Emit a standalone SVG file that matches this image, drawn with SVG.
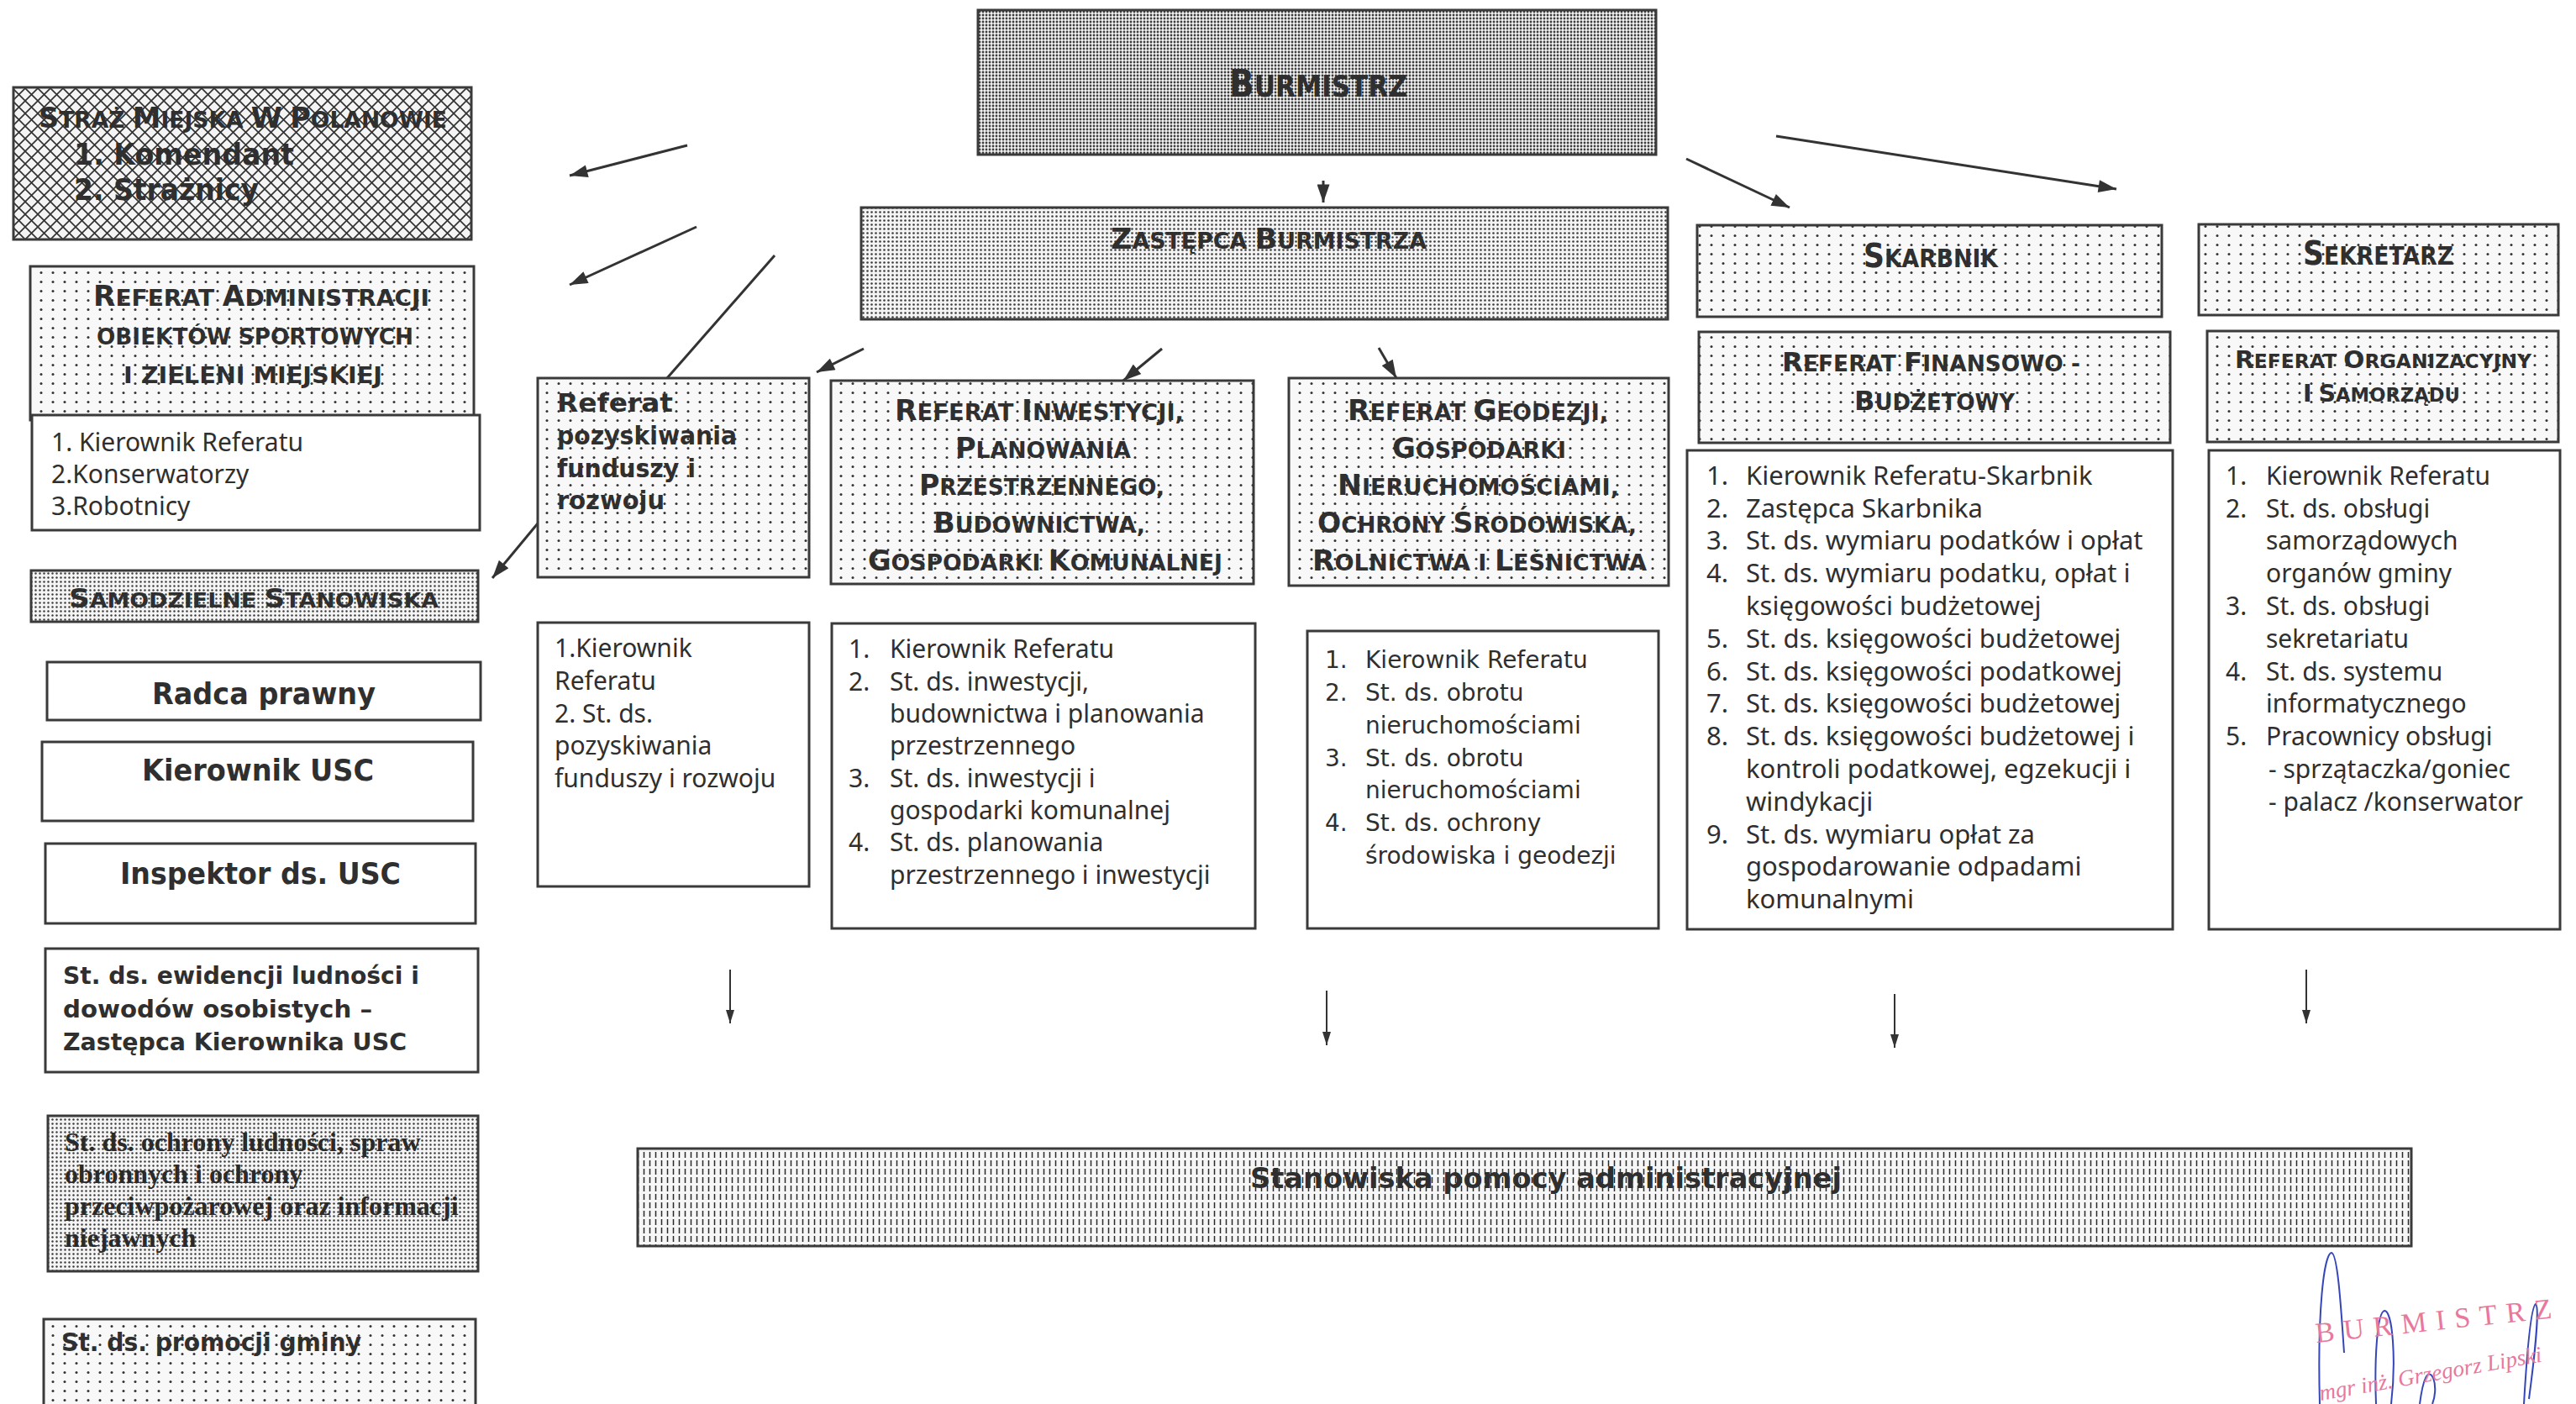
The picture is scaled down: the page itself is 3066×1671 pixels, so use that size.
<svg xmlns="http://www.w3.org/2000/svg" width="3066" height="1671" viewBox="0 0 3066 1671">
<style>
.box{stroke:#3a3a3a;stroke-width:3}
.w{fill:#fff}
.hd{font-family:"DejaVu Sans","Liberation Sans",sans-serif;font-weight:bold;fill:#2f2f2f}
.ls{font-family:"Noto Sans","Liberation Sans",sans-serif;font-size:30px;fill:#2f2f2f}
.lf{font-family:"Noto Sans","Liberation Sans",sans-serif;font-size:31px;fill:#2f2f2f}
.lv{font-family:"DejaVu Sans","Liberation Sans",sans-serif;font-size:28px;fill:#2f2f2f}
.sf{font-family:"Liberation Serif","DejaVu Serif",serif;font-weight:bold;font-size:32px;fill:#2a2a2a}
.con{stroke:#333;stroke-width:3;fill:none}
.con2{stroke:#333;stroke-width:2;fill:none}
.stamp{font-family:"Liberation Serif","DejaVu Serif",serif;fill:#e8789c}
</style>
<defs>
<pattern id="pBur" width="4" height="4" patternUnits="userSpaceOnUse"><rect width="4" height="4" fill="#f2f2f2"/><circle cx="2" cy="2" r="1.4" fill="#3c3c3c"/></pattern>
<pattern id="pZas" width="5" height="5" patternUnits="userSpaceOnUse"><rect width="5" height="5" fill="#f4f4f4"/><circle cx="2.5" cy="2.5" r="1.3" fill="#3c3c3c"/></pattern>
<pattern id="pSam" width="5" height="5" patternUnits="userSpaceOnUse"><rect width="5" height="5" fill="#f4f4f4"/><circle cx="2.5" cy="2.5" r="1.2" fill="#3c3c3c"/></pattern>
<pattern id="pDot" width="14" height="11" patternUnits="userSpaceOnUse"><rect width="14" height="11" fill="#f8f8f8"/><circle cx="7" cy="5.5" r="1.5" fill="#333"/></pattern>
<pattern id="pX" width="15" height="15" patternUnits="userSpaceOnUse"><rect width="15" height="15" fill="#f4f4f4"/><path d="M0,0 L15,15 M15,0 L0,15" stroke="#333" stroke-width="1.7"/></pattern>
<pattern id="pV" width="7" height="10" patternUnits="userSpaceOnUse"><rect width="7" height="10" fill="#f6f6f6"/><line x1="3.5" y1="1" x2="3.5" y2="8" stroke="#2a2a2a" stroke-width="1.5"/></pattern>
<marker id="ah" viewBox="0 0 20 14" refX="20" refY="7" markerWidth="22" markerHeight="15" markerUnits="userSpaceOnUse" orient="auto"><path d="M0,0 L20,7 L0,14 z" fill="#333"/></marker>
<marker id="ahs" viewBox="0 0 16 10" refX="16" refY="5" markerWidth="16" markerHeight="11" markerUnits="userSpaceOnUse" orient="auto"><path d="M0,0 L16,5 L0,10 z" fill="#333"/></marker>
</defs>
<rect width="3066" height="1671" fill="#fff"/>

<g id="connectors">
<line class="con" x1="1575" y1="215" x2="1575" y2="241" marker-end="url(#ah)"/>
<line class="con" x1="818" y1="173" x2="678" y2="209" marker-end="url(#ah)"/>
<line class="con" x1="829" y1="270" x2="678" y2="339" marker-end="url(#ah)"/>
<line class="con" x1="922" y1="304" x2="794" y2="450"/>
<line class="con" x1="640" y1="623" x2="586" y2="688" marker-end="url(#ah)"/>
<line class="con" x1="1028" y1="415" x2="972" y2="443" marker-end="url(#ah)"/>
<line class="con" x1="1383" y1="415" x2="1337" y2="453" marker-end="url(#ah)"/>
<line class="con" x1="1641" y1="414" x2="1662" y2="450" marker-end="url(#ah)"/>
<line class="con" x1="2007" y1="189" x2="2130" y2="247" marker-end="url(#ah)"/>
<line class="con" x1="2114" y1="162" x2="2519" y2="225" marker-end="url(#ah)"/>
<line class="con2" x1="869" y1="1154" x2="869" y2="1218" marker-end="url(#ahs)"/>
<line class="con2" x1="1579" y1="1179" x2="1579" y2="1244" marker-end="url(#ahs)"/>
<line class="con2" x1="2255" y1="1183" x2="2255" y2="1247" marker-end="url(#ahs)"/>
<line class="con2" x1="2745" y1="1154" x2="2745" y2="1218" marker-end="url(#ahs)"/>
</g>

<g id="burmistrz">
<rect class="box" x="1164" y="12" width="807" height="172" fill="url(#pBur)"/>
<text class="hd" x="1463" y="115" font-size="36" textLength="212" lengthAdjust="spacingAndGlyphs"><tspan font-size="45">B</tspan>URMISTRZ</text>
</g>

<g id="zastepca">
<rect class="box" x="1025" y="247" width="960" height="133" fill="url(#pZas)"/>
<text class="hd" x="1322" y="296" font-size="26" textLength="376" lengthAdjust="spacingAndGlyphs"><tspan font-size="34">Z</tspan>ASTĘPCA  <tspan font-size="34">B</tspan>URMISTRZA</text>
</g>

<g id="straz-miejska">
<rect class="box" x="16" y="104" width="545" height="181" fill="url(#pX)"/>
<text class="hd" x="46" y="152" font-size="26" textLength="486" lengthAdjust="spacingAndGlyphs"><tspan font-size="33">S</tspan>TRAŻ <tspan font-size="33">M</tspan>IEJSKA <tspan font-size="33">W</tspan> <tspan font-size="33">P</tspan>OLANOWIE</text>
<text class="hd" x="88" y="196" font-size="35" textLength="262" lengthAdjust="spacingAndGlyphs">1. Komendant</text>
<text class="hd" x="88" y="238" font-size="35" textLength="220" lengthAdjust="spacingAndGlyphs">2. Strażnicy</text>
</g>

<g id="referat-administracji">
<rect class="box" x="36" y="317" width="528" height="183" fill="url(#pDot)"/>
<text class="hd" x="111" y="364" font-size="27" textLength="400" lengthAdjust="spacingAndGlyphs"><tspan font-size="33">R</tspan>EFERAT  <tspan font-size="33">A</tspan>DMINISTRACJI</text>
<text class="hd" x="115" y="410" font-size="27" textLength="377" lengthAdjust="spacingAndGlyphs">OBIEKTÓW SPORTOWYCH</text>
<text class="hd" x="147" y="456" font-size="27" textLength="308" lengthAdjust="spacingAndGlyphs">I ZIELENI MIEJSKIEJ</text>
<rect class="box w" x="38" y="494" width="533" height="137"/>
<text class="ls"><tspan x="61" y="537">1. Kierownik Referatu</tspan><tspan x="61" y="575">2.Konserwatorzy</tspan><tspan x="61" y="613">3.Robotnicy</tspan></text>
</g>

<g id="samodzielne-stanowiska">
<rect class="box" x="37" y="679" width="532" height="61" fill="url(#pSam)"/>
<text class="hd" x="82" y="723" font-size="25" textLength="440" lengthAdjust="spacingAndGlyphs"><tspan font-size="32">S</tspan>AMODZIELNE <tspan font-size="32">S</tspan>TANOWISKA</text>
</g>

<g id="radca-prawny">
<rect class="box w" x="56" y="788" width="516" height="69"/>
<text class="hd" x="314" y="838" font-size="35" text-anchor="middle" textLength="266" lengthAdjust="spacingAndGlyphs">Radca prawny</text>
</g>

<g id="kierownik-usc">
<rect class="box w" x="50" y="883" width="513" height="94"/>
<text class="hd" x="307" y="929" font-size="35" text-anchor="middle" textLength="276" lengthAdjust="spacingAndGlyphs">Kierownik USC</text>
</g>

<g id="inspektor-usc">
<rect class="box w" x="54" y="1004" width="512" height="95"/>
<text class="hd" x="310" y="1052" font-size="35" text-anchor="middle" textLength="334" lengthAdjust="spacingAndGlyphs">Inspektor ds. USC</text>
</g>

<g id="ewidencja-ludnosci">
<rect class="box w" x="54" y="1129" width="515" height="147"/>
<text class="hd" font-size="29"><tspan x="75" y="1171" textLength="424" lengthAdjust="spacingAndGlyphs">St. ds. ewidencji ludności i</tspan><tspan x="75" y="1211" textLength="368" lengthAdjust="spacingAndGlyphs">dowodów osobistych –</tspan><tspan x="75" y="1250" textLength="409" lengthAdjust="spacingAndGlyphs">Zastępca Kierownika USC</tspan></text>
</g>

<g id="ochrona-ludnosci">
<rect class="box" x="57" y="1328" width="512" height="185" fill="url(#pSam)"/>
<text class="sf"><tspan x="77" y="1370">St. ds.  ochrony ludności, spraw</tspan><tspan x="77" y="1408">obronnych i ochrony</tspan><tspan x="77" y="1446">przeciwpożarowej oraz informacji</tspan><tspan x="77" y="1484">niejawnych</tspan></text>
</g>

<g id="promocja-gminy">
<rect class="box" x="52" y="1570" width="514" height="115" fill="url(#pDot)"/>
<text class="hd" x="73" y="1608" font-size="30" textLength="357" lengthAdjust="spacingAndGlyphs">St. ds. promocji gminy</text>
</g>

<g id="referat-pozyskiwania">
<rect class="box" x="640" y="450" width="323" height="237" fill="url(#pDot)"/>
<text class="hd" font-size="31"><tspan x="663" y="490" textLength="138" lengthAdjust="spacingAndGlyphs">Referat</tspan><tspan x="663" y="529" textLength="214" lengthAdjust="spacingAndGlyphs">pozyskiwania</tspan><tspan x="663" y="568" textLength="165" lengthAdjust="spacingAndGlyphs">funduszy i</tspan><tspan x="663" y="606" textLength="128" lengthAdjust="spacingAndGlyphs">rozwoju</tspan></text>
<rect class="box w" x="640" y="741" width="323" height="314"/>
<text class="ls"><tspan x="660" y="782">1.Kierownik</tspan><tspan x="660" y="821">Referatu</tspan><tspan x="660" y="860">2. St. ds.</tspan><tspan x="660" y="898">pozyskiwania</tspan><tspan x="660" y="937">funduszy i rozwoju</tspan></text>
</g>

<g id="referat-inwestycji">
<rect class="box" x="989" y="453" width="503" height="242" fill="url(#pDot)"/>
<text class="hd" x="1065" y="500" font-size="27" textLength="344" lengthAdjust="spacingAndGlyphs"><tspan font-size="34">R</tspan>EFERAT <tspan font-size="34">I</tspan>NWESTYCJI,</text>
<text class="hd" x="1137" y="545" font-size="27" textLength="209" lengthAdjust="spacingAndGlyphs"><tspan font-size="34">P</tspan>LANOWANIA</text>
<text class="hd" x="1094" y="589" font-size="27" textLength="292" lengthAdjust="spacingAndGlyphs"><tspan font-size="34">P</tspan>RZESTRZENNEGO,</text>
<text class="hd" x="1111" y="634" font-size="27" textLength="252" lengthAdjust="spacingAndGlyphs"><tspan font-size="34">B</tspan>UDOWNICTWA,</text>
<text class="hd" x="1033" y="679" font-size="27" textLength="422" lengthAdjust="spacingAndGlyphs"><tspan font-size="34">G</tspan>OSPODARKI <tspan font-size="34">K</tspan>OMUNALNEJ</text>
<rect class="box w" x="990" y="742" width="504" height="363"/>
<text class="ls">
<tspan x="1010" y="783">1.</tspan><tspan x="1059">Kierownik Referatu</tspan>
<tspan x="1010" y="822">2.</tspan><tspan x="1059">St. ds. inwestycji,</tspan>
<tspan x="1059" y="860">budownictwa i planowania</tspan>
<tspan x="1059" y="898">przestrzennego</tspan>
<tspan x="1010" y="937">3.</tspan><tspan x="1059">St. ds. inwestycji i</tspan>
<tspan x="1059" y="975">gospodarki komunalnej</tspan>
<tspan x="1010" y="1013">4.</tspan><tspan x="1059">St. ds. planowania</tspan>
<tspan x="1059" y="1052">przestrzennego i inwestycji</tspan>
</text>
</g>

<g id="referat-geodezji">
<rect class="box" x="1534" y="450" width="452" height="247" fill="url(#pDot)"/>
<text class="hd" x="1604" y="500" font-size="26" textLength="310" lengthAdjust="spacingAndGlyphs"><tspan font-size="33">R</tspan>EFERAT <tspan font-size="33">G</tspan>EODEZJI,</text>
<text class="hd" x="1657" y="545" font-size="26" textLength="207" lengthAdjust="spacingAndGlyphs"><tspan font-size="33">G</tspan>OSPODARKI</text>
<text class="hd" x="1592" y="589" font-size="26" textLength="335" lengthAdjust="spacingAndGlyphs"><tspan font-size="33">N</tspan>IERUCHOMOŚCIAMI,</text>
<text class="hd" x="1568" y="634" font-size="26" textLength="380" lengthAdjust="spacingAndGlyphs"><tspan font-size="33">O</tspan>CHRONY <tspan font-size="33">Ś</tspan>RODOWISKA,</text>
<text class="hd" x="1562" y="679" font-size="26" textLength="398" lengthAdjust="spacingAndGlyphs"><tspan font-size="33">R</tspan>OLNICTWA I <tspan font-size="33">L</tspan>EŚNICTWA</text>
<rect class="box w" x="1556" y="751" width="418" height="354"/>
<text class="lv">
<tspan x="1577" y="795">1.</tspan><tspan x="1625">Kierownik Referatu</tspan>
<tspan x="1577" y="834">2.</tspan><tspan x="1625">St. ds. obrotu</tspan>
<tspan x="1625" y="873">nieruchomościami</tspan>
<tspan x="1577" y="912">3.</tspan><tspan x="1625">St. ds. obrotu</tspan>
<tspan x="1625" y="950">nieruchomościami</tspan>
<tspan x="1577" y="989">4.</tspan><tspan x="1625">St. ds. ochrony</tspan>
<tspan x="1625" y="1028">środowiska i geodezji</tspan>
</text>
</g>

<g id="skarbnik">
<rect class="box" x="2020" y="268" width="553" height="109" fill="url(#pDot)"/>
<text class="hd" x="2218" y="318" font-size="30" textLength="160" lengthAdjust="spacingAndGlyphs"><tspan font-size="39">S</tspan>KARBNIK</text>
</g>

<g id="sekretarz">
<rect class="box" x="2617" y="267" width="428" height="108" fill="url(#pDot)"/>
<text class="hd" x="2741" y="315" font-size="30" textLength="179" lengthAdjust="spacingAndGlyphs"><tspan font-size="39">S</tspan>EKRETARZ</text>
</g>

<g id="referat-finansowo-budzetowy">
<rect class="box" x="2022" y="395" width="561" height="132" fill="url(#pDot)"/>
<text class="hd" x="2121" y="442" font-size="26" textLength="355" lengthAdjust="spacingAndGlyphs"><tspan font-size="32">R</tspan>EFERAT <tspan font-size="32">F</tspan>INANSOWO -</text>
<text class="hd" x="2207" y="488" font-size="26" textLength="191" lengthAdjust="spacingAndGlyphs"><tspan font-size="32">B</tspan>UDŻETOWY</text>
<rect class="box w" x="2008" y="536" width="578" height="570"/>
<text class="lf">
<tspan x="2031" y="577">1.</tspan><tspan x="2078">Kierownik Referatu-Skarbnik</tspan>
<tspan x="2031" y="616">2.</tspan><tspan x="2078">Zastępca Skarbnika</tspan>
<tspan x="2031" y="654">3.</tspan><tspan x="2078">St. ds. wymiaru podatków i opłat</tspan>
<tspan x="2031" y="693">4.</tspan><tspan x="2078">St. ds. wymiaru podatku, opłat i</tspan>
<tspan x="2078" y="732">księgowości budżetowej</tspan>
<tspan x="2031" y="771">5.</tspan><tspan x="2078">St. ds. księgowości budżetowej</tspan>
<tspan x="2031" y="810">6.</tspan><tspan x="2078">St. ds. księgowości podatkowej</tspan>
<tspan x="2031" y="848">7.</tspan><tspan x="2078">St. ds. księgowości budżetowej</tspan>
<tspan x="2031" y="887">8.</tspan><tspan x="2078">St. ds. księgowości budżetowej i</tspan>
<tspan x="2078" y="926">kontroli podatkowej, egzekucji i</tspan>
<tspan x="2078" y="965">windykacji</tspan>
<tspan x="2031" y="1004">9.</tspan><tspan x="2078">St. ds. wymiaru opłat za</tspan>
<tspan x="2078" y="1042">gospodarowanie odpadami</tspan>
<tspan x="2078" y="1081">komunalnymi</tspan>
</text>
</g>

<g id="referat-organizacyjny">
<rect class="box" x="2627" y="394" width="418" height="132" fill="url(#pDot)"/>
<text class="hd" x="2660" y="438" font-size="23" textLength="353" lengthAdjust="spacingAndGlyphs"><tspan font-size="29">R</tspan>EFERAT <tspan font-size="29">O</tspan>RGANIZACYJNY</text>
<text class="hd" x="2741" y="478" font-size="23" textLength="187" lengthAdjust="spacingAndGlyphs"><tspan font-size="29">I</tspan> <tspan font-size="29">S</tspan>AMORZĄDU</text>
<rect class="box w" x="2629" y="536" width="418" height="570"/>
<text class="ls">
<tspan x="2649" y="577">1.</tspan><tspan x="2697">Kierownik Referatu</tspan>
<tspan x="2649" y="616">2.</tspan><tspan x="2697">St. ds. obsługi</tspan>
<tspan x="2697" y="654">samorządowych</tspan>
<tspan x="2697" y="693">organów gminy</tspan>
<tspan x="2649" y="732">3.</tspan><tspan x="2697">St. ds. obsługi</tspan>
<tspan x="2697" y="771">sekretariatu</tspan>
<tspan x="2649" y="810">4.</tspan><tspan x="2697">St. ds. systemu</tspan>
<tspan x="2697" y="848">informatycznego</tspan>
<tspan x="2649" y="887">5.</tspan><tspan x="2697">Pracownicy obsługi</tspan>
<tspan x="2700" y="926">- sprzątaczka/goniec</tspan>
<tspan x="2700" y="965">- palacz /konserwator</tspan>
</text>
</g>

<g id="stanowiska-pomocy">
<rect class="box" x="759" y="1367" width="2111" height="116" fill="url(#pV)"/>
<text class="hd" x="1488" y="1414" font-size="34" textLength="704" lengthAdjust="spacingAndGlyphs">Stanowiska pomocy administracyjnej</text>
</g>

<g id="stamp">
<path d="M2790,1610 C2786,1550 2782,1492 2775,1491 C2766,1492 2758,1560 2761,1671 M2828,1671 C2826,1620 2829,1562 2838,1560 C2848,1560 2852,1620 2846,1671 M2880,1671 C2884,1640 2890,1628 2896,1640 C2900,1650 2898,1664 2895,1671 M3004,1671 C3007,1620 3012,1556 3018,1552 C3023,1556 3016,1620 3010,1665" fill="none" stroke="#3546b8" stroke-width="2"/>
<text class="stamp" x="2757" y="1598" font-size="34" letter-spacing="11" transform="rotate(-6 2757 1598)">BURMISTRZ</text>
<text class="stamp" x="2762" y="1667" font-size="27" font-style="italic" transform="rotate(-10 2762 1667)">mgr inż. Grzegorz Lipski</text>
</g>
</svg>
